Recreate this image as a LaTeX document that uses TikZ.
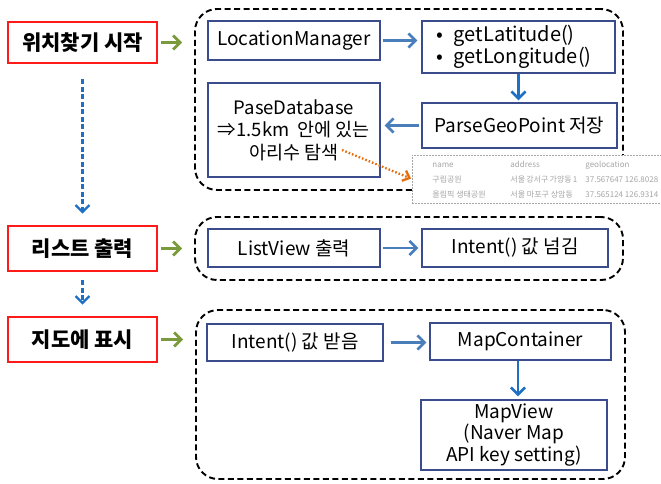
\documentclass[tikz,border=0pt]{standalone}
\usepackage{fontspec}
\setmainfont{Noto Sans CJK KR}
\usepackage{xcolor}
\usepackage{tikz}
\usetikzlibrary{arrows.meta,positioning,calc}

\definecolor{stagered}{HTML}{FF1A1A}
\definecolor{boxline}{HTML}{3B4C8C}
\definecolor{flowblue}{HTML}{4A7EBB}
\definecolor{downblue}{HTML}{1F6FC5}
\definecolor{stagegreen}{HTML}{7A9A3C}
\definecolor{noteorange}{HTML}{E46C0A}

\begin{document}
\begin{tikzpicture}[x=1pt,y=-1pt,
    stagebox/.style={draw=stagered,line width=2.6pt,minimum width=149pt,
      minimum height=43pt,inner sep=0pt,font=\fontsize{21}{25}\selectfont\bfseries},
    procbox/.style={draw=boxline,line width=1.3pt,inner sep=2pt,align=center,
      font=\fontsize{19}{22}\selectfont},
    groupbox/.style={draw=black,line width=1.9pt,dash pattern=on 6pt off 3.5pt,
      rounded corners=22pt,inner sep=0pt},
    flow/.style={-{Straight Barb[length=7pt,width=14pt]},flowblue,line width=2.7pt},
    downflow/.style={flow,downblue},
    stagearrow/.style={flow,stagegreen,shorten <=3pt,shorten >=12pt},
    nextstage/.style={flow,downblue,line width=2.4pt,dash pattern=on 5pt off 2.5pt},
    notearrow/.style={-{Straight Barb[length=6pt,width=11pt]},noteorange,
      line width=2.3pt,dash pattern=on 1.6pt off 2pt}]
  \useasboundingbox (0,0) rectangle (661,484);

  % stages on the left
  \node[stagebox,minimum height=41pt] (start) at (82.5,42.5) {위치찾기 시작};
  \node[stagebox,minimum height=45pt] (list) at (82.5,248.5) {리스트 출력};
  \node[stagebox,minimum height=45pt] (map) at (82.5,339.5) {지도에 표시};

  % dashed groups
  \node[groupbox,minimum width=428pt,minimum height=181pt] (findgroup) at (409,99.5) {};
  \node[groupbox,minimum width=428pt,minimum height=63pt] (listgroup) at (409,248.5) {};
  \node[groupbox,minimum width=429pt,minimum height=169pt] (mapgroup) at (410.5,394.5) {};

  % first group: locate and search
  \node[procbox,minimum width=172pt,minimum height=39pt] (locman) at (294,40.5) {LocationManager};
  \node[procbox,minimum width=193pt,minimum height=52pt,text width=165pt,align=left,
    font=\fontsize{20}{22}\selectfont] (latlon) at (518.5,47)
    {•\hspace{11pt}getLatitude()\\•\hspace{11pt}getLongitude()};
  \node[procbox,minimum width=195pt,minimum height=45pt] (geopoint) at (519.5,125.5) {ParseGeoPoint 저장};
  \node[procbox,minimum width=172pt,minimum height=94pt,font=\fontsize{18.5}{22.5}\selectfont]
    (db) at (294,130) {PaseDatabase\\⇒1.5km\ \ 안에 있는\\아리수 탐색};
  \coordinate (dbnote) at (342,150);

  % table snapshot
  \node[draw=gray!70,fill=white,line width=0.8pt,dash pattern=on 2pt off 1pt,
    minimum width=256pt,minimum height=48pt,inner sep=0pt,anchor=west,
    text=gray!70,font=\fontsize{8}{15}\selectfont] (dbtable) at (412,179)
    {\begin{tabular}{@{\hspace{20pt}}p{70pt}@{\hspace{8pt}}p{67pt}@{\hspace{8pt}}l@{\hspace{20pt}}}
      name & address & geolocation\\
      구립공원 & 서울 강서구 가양동 1 & 37.567647 126.8028\\
      올림픽 생태공원 & 서울 마포구 상암동 & 37.565124 126.9314
    \end{tabular}};

  % second group: list
  \node[procbox,minimum width=172pt,minimum height=38pt] (listview) at (294,248) {ListView 출력};
  \node[procbox,minimum width=186pt,minimum height=38pt] (intentout) at (515,248) {Intent() 값 넘김};

  % third group: map
  \node[procbox,minimum width=176pt,minimum height=37pt] (intentin) at (295,342.5) {Intent() 값 받음};
  \node[procbox,minimum width=181pt,minimum height=37pt] (mapcont) at (520.5,341.5) {MapContainer};
  \node[procbox,minimum width=186pt,minimum height=70pt,font=\fontsize{19}{21.5}\selectfont]
    (mapview) at (514,435) {MapView\\(Naver Map\\API key setting)};

  % connectors
  \draw[stagearrow] (start.east) -- (start.east -| findgroup.west);
  \draw[stagearrow] (list.east) -- (list.east -| listgroup.west);
  \draw[stagearrow] (map.east) -- (map.east -| mapgroup.west);
  \draw[nextstage,shorten <=15pt,shorten >=11pt] (start.south) -- (list.north);
  \draw[nextstage,shorten <=8pt,shorten >=11pt] (list.south) -- (map.north);

  \draw[flow,shorten <=2pt,shorten >=4pt] (locman.east) -- (locman.east -| latlon.west);
  \draw[downflow,shorten >=2pt] (latlon.south) -- (latlon.south |- geopoint.north);
  \draw[flow,shorten <=2pt,shorten >=4pt] (geopoint.west) -- (geopoint.west -| db.east);
  \draw[notearrow,shorten >=1pt] (dbnote) -- (dbtable.west);

  \draw[flow,shorten <=2pt,shorten >=3pt] (listview.east) -- (listview.east -| intentout.west);
  \draw[flow,shorten <=7pt,shorten >=3pt] (intentin.east) -- (intentin.east -| mapcont.west);
  \draw[downflow,shorten >=3pt] (mapcont.south -| 518,0) -- (518,0 |- mapview.north);
\end{tikzpicture}
\end{document}
